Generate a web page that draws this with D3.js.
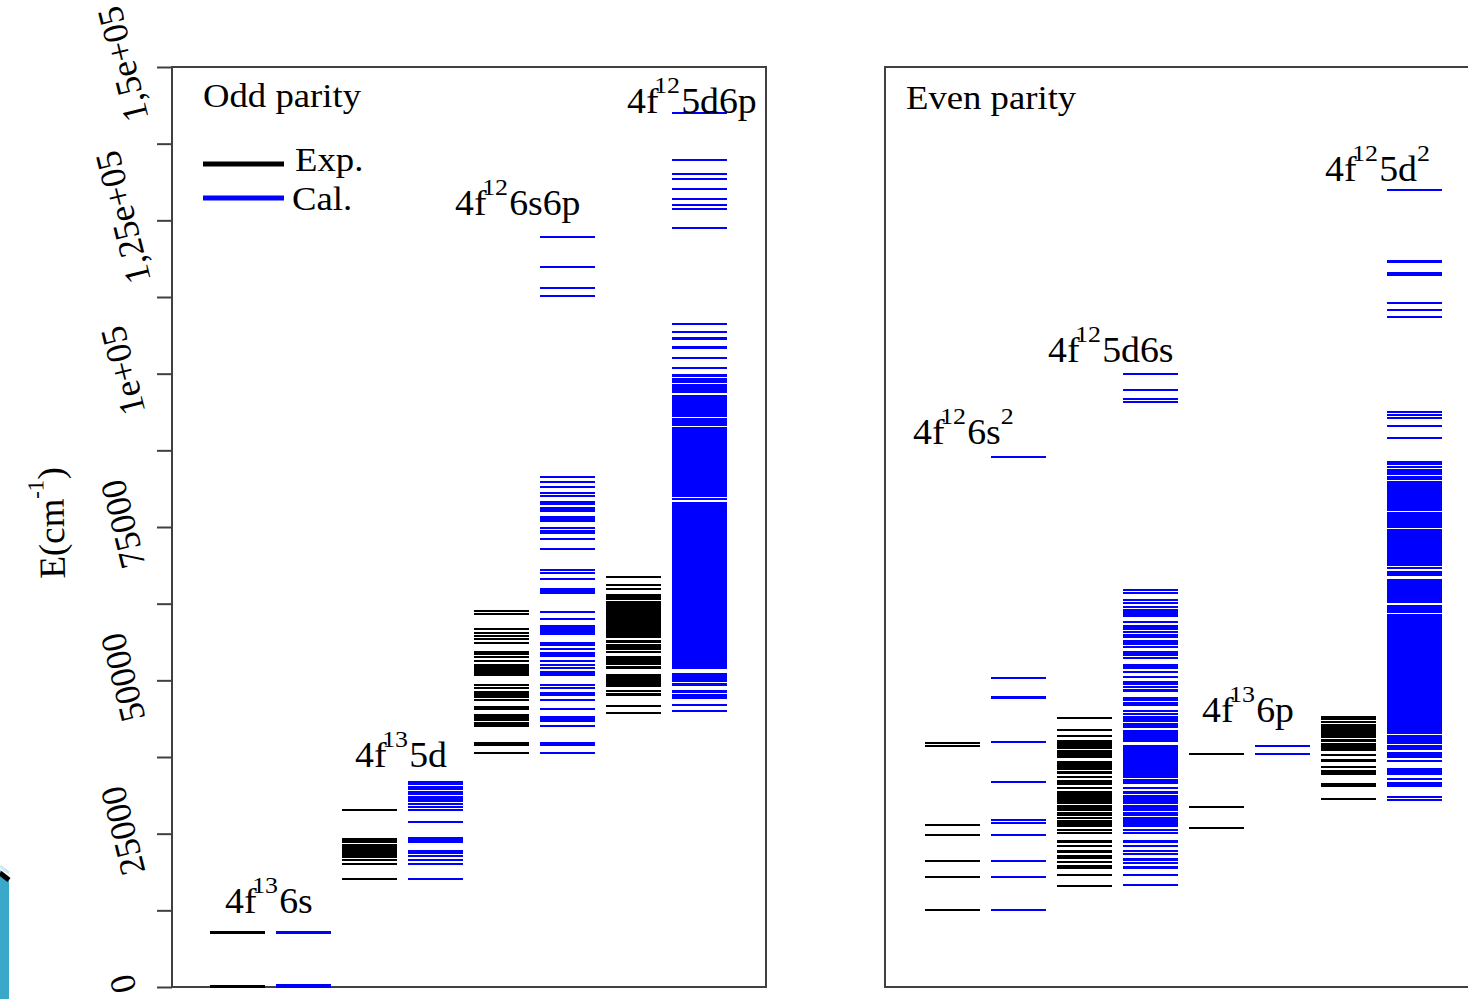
<!DOCTYPE html>
<html><head><meta charset="utf-8">
<script src="https://cdn.jsdelivr.net/npm/d3@7"></script>
<style>
html,body{margin:0;padding:0;background:#fff;}
svg{display:block;}
text{font-family:"Liberation Serif","Times New Roman",serif;fill:#000;}
</style>
</head><body>
<svg id="chart" width="1468" height="999"></svg>
<script>
// ---------------- DATA (energy levels in cm^-1) ----------------
// Odd parity
const odd6sExp = [0, 237, 8770, 8957];
const odd6sCal = [0, 245, 8790, 8950];
const odd5dExp = [28860, 24080, 23850, 23590, 23150, 22870, 22550, 22220, 21900, 21520, 21150, 20710, 20050, 17560];
const odd5dCal = [33470, 33100, 32660, 32230, 31740, 31420, 31020, 30650, 30280, 29890, 29400, 28860, 26900, 24340, 23970, 23590, 22170, 21800, 21310, 20710, 20100, 17560];
const odd6s6pExp = [61350, 60770, 58370, 57670, 57230, 56740, 56140, 54620, 54240, 53850, 53200, 52580, 52340, 52090, 51850, 51600, 51360, 51110, 50870, 49160, 48830, 48020, 47770, 47530, 47280, 46790, 45700, 45280, 44270, 44020, 43780, 43530, 43090, 42830, 42550, 39780, 39460, 38200];
const odd6s6pCal = [122330, 117440, 113920, 112710, 83200, 82290, 81470, 80490, 80050, 79070, 78830, 78020, 77770, 77530, 76630, 76380, 76140, 75900, 74790, 74400, 73970, 73090, 71360, 67990, 67550, 66570, 64890, 64560, 64240, 61090, 59950, 58780, 58530, 58290, 58040, 57800, 57550, 56090, 55760, 55060, 54460, 54210, 53970, 53200, 52420, 52090, 51440, 51200, 50950, 49160, 48830, 47930, 47610, 46790, 45330, 44020, 43780, 43530, 43290, 42600, 39780, 39460, 38200];
const odd5d6pExp = [66800, 65540, 64940, 63990, 63750, 63500, 63260, 62820, 62540, 62260, 61970, 61700, 61420, 61130, 60860, 60580, 60290, 60020, 59740, 59450, 59180, 58900, 58610, 58340, 58060, 57770, 57500, 57220, 57020, 56490, 56170, 55680, 55430, 55030, 54700, 53800, 53560, 53310, 53070, 52830, 52660, 52170, 51930, 50950, 50620, 50140, 49890, 49560, 49320, 49080, 48310, 47850, 47530, 45860, 44720];
const odd5d6pCal = [142450, 134830, 132500, 131740, 130110, 128480, 127500, 126890, 123800,
  108100, 106840, 105890, 105650, 104420, 104180, 102550, 100920, 99860, 99570, 99210, 98880, 98640,
  98230, 97990, 97740, 97500, 97250, 97010, 96440, 96190,
  95790, 95540, 95300, 95050, 94810, 94560, 94320, 94070, 93830, 93590, 93340, 93100,
  92530, 92280, 92040, 91790, 91550,
  91150, 90880, 90590, 90320, 90030, 89760, 89480, 89200, 88930, 88640, 88370, 88090, 87810, 87540, 87250, 86980, 86700, 86420, 86150, 85860, 85590, 85310, 85030, 84760, 84470, 84200, 83920, 83640, 83370, 83080, 82810, 82530, 82250, 81980, 81690, 81420, 81140, 80860, 80590, 80320, 80080,
  79520,
  78960, 78680, 78400, 78110, 77840, 77560, 77270, 77000, 76720, 76430, 76160, 75880, 75590, 75320, 75040, 74750, 74480, 74200, 73910, 73640, 73360, 73070, 72800, 72520, 72230, 71960, 71680, 71390, 71120, 70840, 70550, 70280, 70000, 69710, 69440, 69160, 68870, 68600, 68320, 68030, 67760, 67480, 67190, 66920, 66640, 66350, 66080, 65800, 65510, 65240, 64960, 64670, 64400, 64120, 63830, 63560, 63280, 62990, 62720, 62440, 62150, 61880, 61600, 61310, 61040, 60760, 60470, 60200, 59920, 59630, 59360, 59080, 58790, 58520, 58240, 57950, 57680, 57400, 57110, 56840, 56560, 56270, 56000, 55720, 55600,
  55350, 55110, 54860, 54620, 54370,
  53890, 53640, 53400, 53150, 52910, 52660, 52420, 52170, 51930,
  51110, 50870, 50620, 50380, 50140, 49890, 49480, 49160, 48260, 48020, 47690, 47450, 47120, 45900, 44920];

// Even parity
const even6s2Exp = [39830, 39340, 26410, 24780, 20540, 17980, 12550];
const even6s2Cal = [86460, 50330, 47280, 47040, 39990, 33470, 27230, 26790, 24780, 20540, 17980, 12550];
const even5d6sExp = [43910, 41900, 40970, 40190, 39950, 39700, 39460, 39210, 38970, 38400, 38150, 37910, 37660, 37420, 36680, 36440, 36200, 35950, 35710, 35540, 35050, 34810, 34240, 33510, 33260, 33020, 32450, 31790, 31550, 31300, 31060, 30820, 30570, 30330, 30080, 29430, 29180, 28940, 28370, 28120, 27550, 27070, 26820, 26580, 26330, 25520, 25190, 23800, 23560, 22910, 22170, 21930, 21440, 21200, 21030, 20300, 19650, 19400, 18180, 16390];
const even5d6sCal = [99900, 97280, 95870, 95430,
  64730, 64290, 63130, 62560, 61960, 61390, 61140, 60900, 60650, 60410, 59430, 58940, 58690, 58450, 57800, 57310, 57060, 56490, 56250, 56000, 55480, 54620, 54370, 54130, 53640, 52580, 52340, 52090, 51330, 50620, 49650, 49480, 48940, 48420, 48210, 47120, 46840, 46340, 46090, 45930, 44950, 44480, 44020, 43780, 43530, 43320, 42910, 42670, 42420, 41740, 41490, 41250, 41000, 40760, 40520, 40270, 40110,
  39240, 38960, 38680, 38390, 38120, 37840, 37550, 37280, 37000, 36710, 36440, 36160, 35870, 35600, 35320, 35030, 34760, 34480, 34240,
  33670, 33420, 33180, 32400, 31740, 31550, 31060, 30820, 30570, 30330, 30080, 29540, 29300, 29050, 28830, 28320, 28120, 27590, 27340, 27100, 26850, 26610, 26360, 26200, 25650, 25080, 23840, 23640, 23020, 22210, 21650, 20870, 20660, 20170, 19600, 19370, 18180, 16550];
const even6pExp = [37990, 29350, 25920];
const even6pCal = [39340, 37990];
const even5d2Exp = [43990, 43730, 43240, 42770, 42360, 42110, 41870, 41540, 41300, 41050, 40840, 40350, 40110, 39540, 39290, 39050, 38800, 38590, 37870, 37010, 36770, 35790, 35170, 34920, 34680, 33100, 32800, 30650];
const even5d2Cal = [129890, 118370, 118160, 116460, 116040, 111570, 110380, 109290, 93750, 93260, 92820, 91470, 89560, 85650, 85270, 84830,
  84320, 84080, 83840, 83590, 83100, 82780, 82300, 82060, 81810, 81570, 81320, 81190, 80840, 80590, 80350, 80100, 79860, 79610, 79370, 79120, 78880, 78630, 78460, 78060, 77850, 77360, 77120, 76870, 76710, 76340, 76090, 75850, 75600, 75360, 75110, 75000,
  74430, 74180, 73940, 73690, 73450, 73210, 72960, 72720, 72470, 72230, 71980, 71740, 71580, 71170, 70920, 70680, 70430, 70190, 69940, 69700, 69460, 69210, 68970, 68800, 68270, 67690, 67450, 67220,
  66280, 66030, 65790, 65540, 65300, 65050, 64810, 64560, 64320, 64080, 63830, 63590, 63340, 63100, 62850, 62040, 61790, 61550, 61300, 61090,
  60650, 60370, 60090, 59800, 59530, 59250, 58960, 58690, 58410, 58120, 57850, 57570, 57280, 57010, 56730, 56440, 56170, 55890, 55600, 55330, 55050, 54760, 54490, 54210, 53920, 53650, 53370, 53080, 52810, 52530, 52240, 51970, 51690, 51400, 51130, 50850, 50560, 50290, 50010, 49720, 49450, 49170, 48880, 48610, 48330, 48040, 47770, 47490, 47200, 46930, 46650, 46360, 46090, 45810, 45520, 45250, 44970, 44680, 44410, 44130, 43840, 43570, 43290, 43000, 42720,
  42360, 42110, 41870, 41620, 41410, 40890, 40650, 40480, 40080, 39830, 39370, 39130, 38850, 38180, 37940, 37700, 37500, 36880, 35580, 35330, 35090, 34840, 34650, 33880, 33230, 32980, 32740, 30930, 30490];

// Axis ticks
const tickValues = [0, 12500, 25000, 37500, 50000, 62500, 75000, 87500, 100000, 112500, 125000, 137500, 150000];
const labelValues = [0, 25000, 50000, 75000, 100000, 125000, 150000];
const tickLabels = ["0", "25000", "50000", "75000", "1e+05", "1,25e+05", "1,5e+05"];

// Configuration labels: [base, superscript, rest, trailing superscript]
const oddConfigs = ["6s", "5d", "6s6p", "5d6p"];
const oddConfigText = [["4f", "13", "6s", ""], ["4f", "13", "5d", ""], ["4f", "12", "6s6p", ""], ["4f", "12", "5d6p", ""]];
const evenConfigs = ["6s2", "5d6s", "6p", "5d2"];
const evenConfigText = [["4f", "12", "6s", "2"], ["4f", "12", "5d6s", ""], ["4f", "13", "6p", ""], ["4f", "12", "5d", "2"]];
const legendLabels = ["Exp.", "Cal."];
const panelTitles = ["Odd parity", "Even parity"];

// ---------------- LAYOUT ----------------
const svg = d3.select("#chart");
const FRAME = "#404040";
const COL = {exp: "#000000", cal: "#0000ff"};

const y = d3.scaleLinear().domain([0, 150000]).range([987, 67]);

const oddCols = [
  {cfg: "6s", kind: "exp", levels: odd6sExp}, {cfg: "6s", kind: "cal", levels: odd6sCal},
  {cfg: "5d", kind: "exp", levels: odd5dExp}, {cfg: "5d", kind: "cal", levels: odd5dCal},
  {cfg: "6s6p", kind: "exp", levels: odd6s6pExp}, {cfg: "6s6p", kind: "cal", levels: odd6s6pCal},
  {cfg: "5d6p", kind: "exp", levels: odd5d6pExp}, {cfg: "5d6p", kind: "cal", levels: odd5d6pCal}
];
const evenCols = [
  {cfg: "6s2", kind: "exp", levels: even6s2Exp}, {cfg: "6s2", kind: "cal", levels: even6s2Cal},
  {cfg: "5d6s", kind: "exp", levels: even5d6sExp}, {cfg: "5d6s", kind: "cal", levels: even5d6sCal},
  {cfg: "6p", kind: "exp", levels: even6pExp}, {cfg: "6p", kind: "cal", levels: even6pCal},
  {cfg: "5d2", kind: "exp", levels: even5d2Exp}, {cfg: "5d2", kind: "cal", levels: even5d2Cal}
];

const xOdd = d3.scaleBand().domain(oddCols.map(c => c.cfg + "-" + c.kind))
  .range([204.5, 732.5]).paddingInner(1 / 6).paddingOuter(1 / 12);
const xEven = d3.scaleBand().domain(evenCols.map(c => c.cfg + "-" + c.kind))
  .range([919.5, 1447.5]).paddingInner(1 / 6).paddingOuter(1 / 12);

// label layout offsets (dx from exp column start, dy from top level)
const oddLabelOffsets = [[15, -19], [13, -15], [-19, -22], [21, 0]];
const evenLabelOffsets = [[-12, -13], [-9, -12], [13, -24], [4, -9]];

// decoration bottom-left (slide artifact)
svg.append("path").attr("d", "M0,870 L9,877 L9,999 L0,999 Z").attr("fill", "#3aa9c9");
svg.append("path").attr("d", "M0,873 L9,880").attr("stroke", "#000").attr("stroke-width", 5);
svg.append("path").attr("d", "M0,866 L9,873").attr("stroke", "#cfe9f1").attr("stroke-width", 3);

// panels frames
svg.append("rect").attr("x", 172).attr("y", 67).attr("width", 594).attr("height", 920)
  .attr("fill", "none").attr("stroke", FRAME).attr("stroke-width", 2);
svg.append("rect").attr("x", 885).attr("y", 67).attr("width", 700).attr("height", 920)
  .attr("fill", "none").attr("stroke", FRAME).attr("stroke-width", 2);

// y axis ticks
const axisG = svg.append("g").attr("transform", "translate(172,0)")
  .call(d3.axisLeft(y).tickValues(tickValues).tickSize(15).tickFormat(""));
axisG.select(".domain").remove();
axisG.selectAll(".tick line").attr("stroke", FRAME).attr("stroke-width", 2);

svg.append("g").selectAll("text").data(labelValues).join("text")
  .attr("transform", d => `translate(123,${y(d) - 3}) rotate(-104)`)
  .attr("text-anchor", "middle").attr("dominant-baseline", "central")
  .attr("font-size", 36)
  .text((d, i) => tickLabels[i]);

// y axis title
const yt = svg.append("text")
  .attr("transform", "translate(51,523) rotate(-91)")
  .attr("text-anchor", "middle").attr("dominant-baseline", "central")
  .attr("font-size", 37);
yt.append("tspan").text("E(cm");
yt.append("tspan").attr("font-size", 23).attr("dy", -15).text("-1");
yt.append("tspan").attr("dy", 15).text(")");

// level lines
function drawPanel(cols, x) {
  const g = svg.append("g").attr("shape-rendering", "crispEdges");
  cols.forEach(c => {
    const key = c.cfg + "-" + c.kind;
    g.append("g").selectAll("line").data(c.levels).join("line")
      .attr("x1", x(key)).attr("x2", x(key) + x.bandwidth())
      .attr("y1", d => y(d)).attr("y2", d => y(d))
      .attr("stroke", COL[c.kind]).attr("stroke-width", 2);
  });
}
drawPanel(oddCols, xOdd);
drawPanel(evenCols, xEven);

// configuration labels
function drawLabels(configs, texts, offsets, cols, x) {
  configs.forEach((cfg, i) => {
    const top = d3.max(cols.filter(c => c.cfg === cfg), c => d3.max(c.levels));
    const x0 = x(cfg + "-exp") + offsets[i][0];
    const y0 = y(top) + offsets[i][1];
    const t = svg.append("text").attr("transform", `translate(${x0},${y0}) scale(1.08,1)`)
      .attr("font-size", 35);
    const p = texts[i];
    t.append("tspan").text(p[0]);
    t.append("tspan").attr("font-size", 24).attr("dy", -20).attr("dx", -4).text(p[1]);
    t.append("tspan").attr("dy", 20).attr("dx", 1).text(p[2]);
    if (p[3]) t.append("tspan").attr("font-size", 24).attr("dy", -20).text(p[3]);
  });
}
drawLabels(oddConfigs, oddConfigText, oddLabelOffsets, oddCols, xOdd);
drawLabels(evenConfigs, evenConfigText, evenLabelOffsets, evenCols, xEven);

// panel titles
svg.append("text").attr("transform", "translate(203,107) scale(1.08,1)").attr("font-size", 34).text(panelTitles[0]);
svg.append("text").attr("transform", "translate(906,109) scale(1.08,1)").attr("font-size", 34).text(panelTitles[1]);

// legend
const legend = svg.append("g");
const legendY = [164, 198];
const legendKinds = ["exp", "cal"];
legend.selectAll("line").data(legendKinds).join("line")
  .attr("x1", 203).attr("x2", 284)
  .attr("y1", (d, i) => legendY[i]).attr("y2", (d, i) => legendY[i])
  .attr("stroke", d => COL[d]).attr("stroke-width", 5);
legend.selectAll("text").data(legendLabels).join("text")
  .attr("transform", (d, i) => `translate(${i === 0 ? 295 : 292},${legendY[i] + (i === 0 ? 7 : 12)}) scale(1.08,1)`)
  .attr("font-size", 34).text(d => d);
</script>
</body></html>
